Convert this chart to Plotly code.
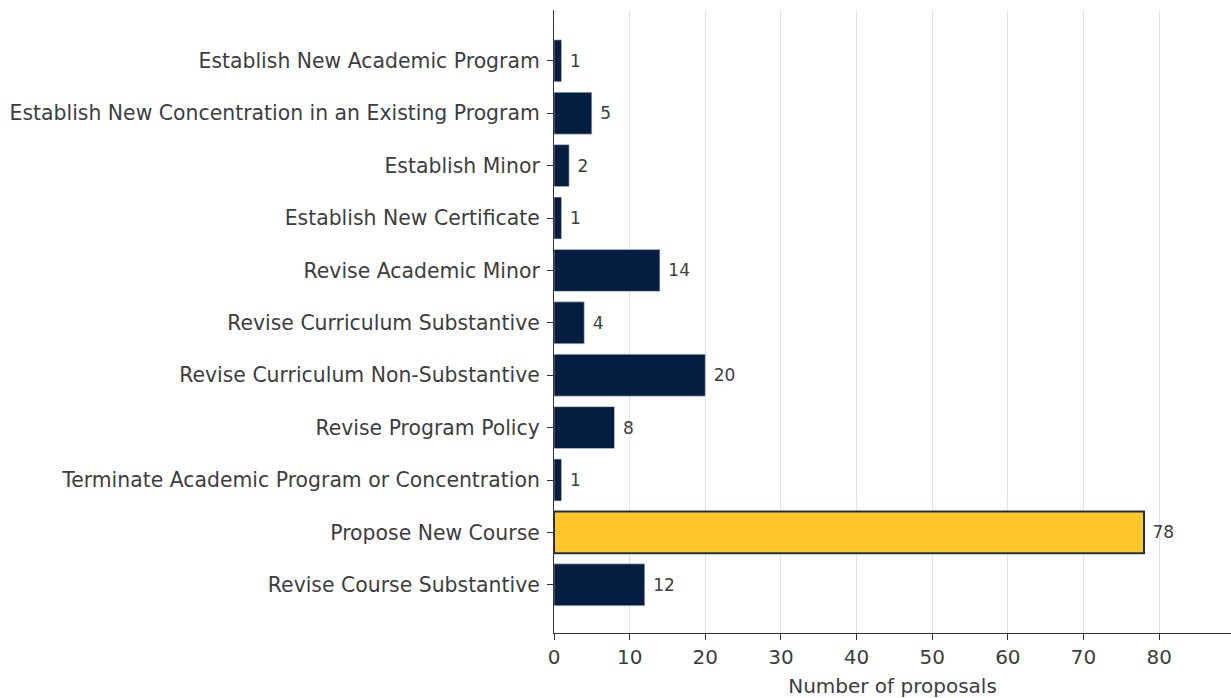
import plotly.graph_objects as go

# ---------------------------------
# Données
# ---------------------------------
categories = [
    "Establish New Academic Program",
    "Establish New Concentration in an Existing Program",
    "Establish Minor",
    "Establish New Certificate",
    "Revise Academic Minor",
    "Revise Curriculum Substantive",
    "Revise Curriculum Non-Substantive",
    "Revise Program Policy",
    "Terminate Academic Program or Concentration",
    "Propose New Course",
    "Revise Course Substantive",
]
counts = [1, 5, 2, 1, 14, 4, 20, 8, 1, 78, 12]
highlight = "Propose New Course"
x_ticks = [0, 10, 20, 30, 40, 50, 60, 70, 80]

NAVY = "#041E42"
GOLD = "#FFC72C"
TEXT = "#3d3d3d"

colors = [GOLD if c == highlight else NAVY for c in categories]
edge_colors = ["#1f2f45" if c == highlight else "#c8d0dc" for c in categories]
edge_widths = [2 if c == highlight else 0.6 for c in categories]

fig = go.Figure(go.Bar(
    x=counts,
    y=categories,
    orientation="h",
    marker=dict(color=colors, line=dict(color=edge_colors, width=edge_widths)),
    text=["\u00a0" + str(v) for v in counts],
    textposition="outside",
    textfont=dict(size=17, color=TEXT, family="DejaVu Sans"),
    cliponaxis=False,
    hovertemplate="%{y}: %{x}<extra></extra>",
))

n = len(categories)
fig.update_layout(
    width=1231,
    height=698,
    margin=dict(l=554, r=0, t=10, b=65),
    plot_bgcolor="white",
    paper_bgcolor="white",
    font=dict(family="DejaVu Sans", color=TEXT, size=20),
    bargap=0.2,
    showlegend=False,
)
fig.update_xaxes(
    range=[0, 89.5],
    tickvals=x_ticks,
    showgrid=True,
    gridcolor="#e3e3e3",
    gridwidth=1,
    showline=True,
    linecolor="#333333",
    linewidth=1.2,
    ticks="outside",
    ticklen=6,
    tickcolor="#333333",
    tickfont=dict(size=20),
    zeroline=False,
    title=dict(text="Number of proposals", font=dict(size=20), standoff=10),
)
fig.update_yaxes(
    range=[n - 1 + 0.92, -0.97],
    showline=True,
    linecolor="#333333",
    linewidth=1.2,
    ticks="outside",
    ticklen=6,
    tickcolor="#333333",
    tickfont=dict(size=20.4),
    ticklabelstandoff=3,
    showgrid=False,
)

# pas de marge autour du graphique dans la page, pas de barre d'outils
fig.write_html(
    "out.html",
    config={"displayModeBar": False},
    post_script="document.body.style.margin='0';",
)
